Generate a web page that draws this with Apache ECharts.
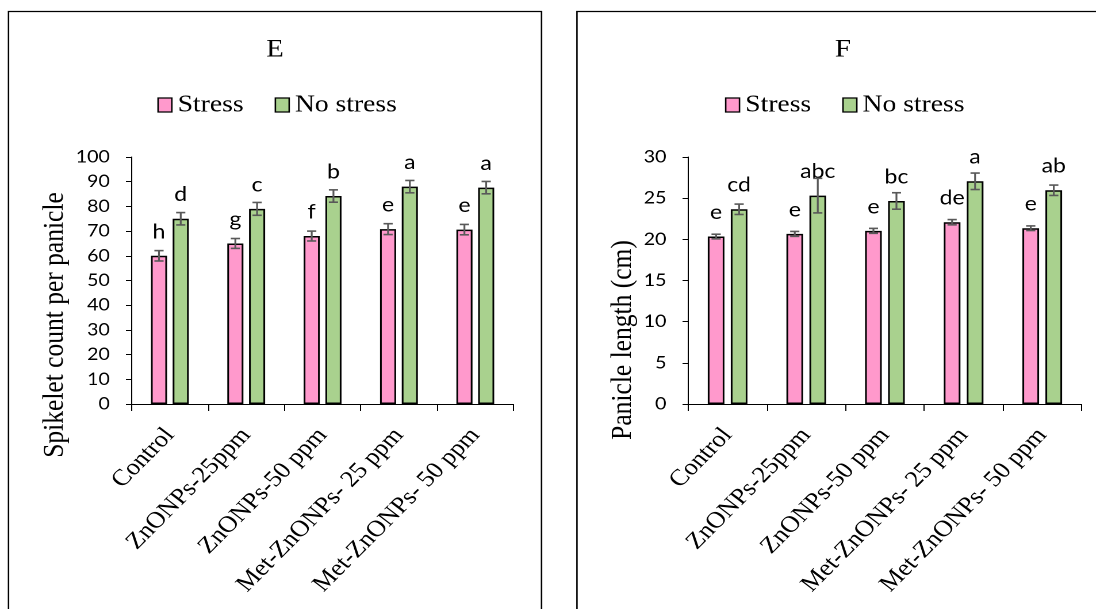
<!DOCTYPE html>
<html>
<head>
<meta charset="utf-8">
<title>Spikelet count and panicle length</title>
<script src="https://cdn.jsdelivr.net/npm/echarts@6/dist/echarts.min.js"></script>
<style>
  html, body { margin: 0; padding: 0; background: #fff; overflow: hidden; }
  /* the figure is laid out on a narrower canvas and widened to the page */
  #chart { width: 953px; height: 609px; transform: scaleX(1.15); transform-origin: 0 0; }
</style>
</head>
<body>
<div id="chart"></div>
<script>
// Treatments shared by both panels
const categories = ['Control', 'ZnONPs-25ppm', 'ZnONPs-50 ppm', 'Met-ZnONPs- 25 ppm', 'Met-ZnONPs- 50 ppm'];
const seriesNames = ['Stress', 'No stress'];

// Panel E: spikelet count per panicle (mean ± error)
const spikeStress = [60, 65, 68, 70.8, 70.6];
const spikeStressErr = [2.1, 2.0, 2.0, 2.2, 2.1];
const spikeNoStress = [75, 79, 84.2, 88.0, 87.6];
const spikeNoStressErr = [2.5, 2.6, 2.5, 2.5, 2.5];
const spikeStressLetters = ['h', 'g', 'f', 'e', 'e'];
const spikeNoStressLetters = ['d', 'c', 'b', 'a', 'a'];
const spikeTicks = { min: 0, max: 100, step: 10 };

// Panel F: panicle length in cm (mean ± error)
const lenStress = [20.34, 20.66, 21.03, 22.08, 21.35];
const lenStressErr = [0.28, 0.3, 0.3, 0.32, 0.28];
const lenNoStress = [23.65, 25.31, 24.66, 27.05, 25.96];
const lenNoStressErr = [0.63, 2.1, 1.0, 1.0, 0.63];
const lenStressLetters = ['e', 'e', 'e', 'de', 'e'];
const lenNoStressLetters = ['cd', 'abc', 'bc', 'a', 'ab'];
const lenTicks = { min: 0, max: 30, step: 5 };

const PINK = '#FF99CC';
const GREEN = '#A9D18E';
const ERR = '#595959';
const SERIF = '"Liberation Serif", "Times New Roman", serif';
const SANS = 'Lato, "Open Sans", sans-serif';

// bar geometry per panel: width in px and gap as a fraction of width
const panels = [
  { grid: { left: 114.5, top: 157, width: 332, height: 247 }, barW: 14, gap: 0.35 },
  { grid: { left: 598.5, top: 157, width: 342, height: 247 }, barW: 14.5, gap: 0.38 }
];

function barSeries(name, values, letters, color, p) {
  const pn = panels[p];
  return {
    type: 'bar', name: name, data: values,
    xAxisIndex: p, yAxisIndex: p,
    barWidth: pn.barW, barGap: Math.round(pn.gap * 100) + '%',
    itemStyle: { color: color, borderColor: '#000', borderWidth: 1.5 },
    label: {
      show: true, position: 'top', distance: 14,
      fontFamily: SANS, fontSize: 20, color: '#000',
      formatter: function (prm) { return letters[prm.dataIndex]; }
    },
    z: 2
  };
}

// whiskers drawn on top of each bar through the axis scales
function errorSeries(values, errs, p, side) {
  const pn = panels[p];
  const shift = side * pn.barW * (1 + pn.gap) / 2;
  return {
    type: 'custom',
    xAxisIndex: p, yAxisIndex: p,
    data: values.map(function (v, i) { return [i, v, errs[i]]; }),
    encode: { x: 0, y: 1 },
    silent: true, z: 5,
    renderItem: function (params, api) {
      const i = api.value(0), m = api.value(1), e = api.value(2);
      const hi = api.coord([i, m + e]);
      const lo = api.coord([i, m - e]);
      const x = hi[0] + shift;
      const cap = 4;
      const st = { stroke: ERR, lineWidth: 1.6 };
      return {
        type: 'group',
        children: [
          { type: 'line', shape: { x1: x, y1: hi[1], x2: x, y2: lo[1] }, style: st },
          { type: 'line', shape: { x1: x - cap, y1: hi[1], x2: x + cap, y2: hi[1] }, style: st },
          { type: 'line', shape: { x1: x - cap, y1: lo[1], x2: x + cap, y2: lo[1] }, style: st }
        ]
      };
    }
  };
}

function xAxisFor(p) {
  return {
    type: 'category', gridIndex: p, data: categories,
    axisLine: { lineStyle: { color: '#000', width: 1 } },
    axisTick: { show: true, alignWithLabel: false, length: 7, lineStyle: { color: '#000' } },
    axisLabel: {
      interval: 0, rotate: 49, margin: 27.5,
      fontFamily: SERIF, fontSize: 23, color: '#000'
    },
    splitLine: { show: false }
  };
}

function yAxisFor(p, t) {
  return {
    type: 'value', gridIndex: p,
    min: t.min, max: t.max, interval: t.step,
    axisLine: { show: true, lineStyle: { color: '#000', width: 1 } },
    axisTick: { show: true, length: 5, lineStyle: { color: '#000' } },
    axisLabel: { margin: 19, fontFamily: SANS, fontSize: 17, color: '#000' },
    splitLine: { show: false }
  };
}

function legendFor(left) {
  return {
    data: seriesNames, left: left, top: 93, padding: 0,
    icon: 'rect', itemWidth: 12, itemHeight: 14, itemGap: 27,
    itemStyle: { borderColor: '#000', borderWidth: 1.3 },
    textStyle: { fontFamily: SERIF, fontSize: 24, color: '#000' },
    selectedMode: false
  };
}

function textEl(str, x, y, size, rot) {
  return {
    type: 'text', x: x, y: y, rotation: rot || 0, silent: true,
    style: {
      text: str, font: size + 'px ' + SERIF, fill: '#000',
      textAlign: 'center', textVerticalAlign: 'middle',
      align: 'center', verticalAlign: 'middle'
    }
  };
}

const chart = echarts.init(document.getElementById('chart'), null, { renderer: 'canvas', devicePixelRatio: 2 });

chart.setOption({
  animation: false,
  backgroundColor: '#fff',
  grid: panels.map(function (pn) { return Object.assign({ containLabel: false }, pn.grid); }),
  xAxis: [xAxisFor(0), xAxisFor(1)],
  yAxis: [yAxisFor(0, spikeTicks), yAxisFor(1, lenTicks)],
  legend: [legendFor(136.8), legendFor(630.4)],
  series: [
    barSeries(seriesNames[0], spikeStress, spikeStressLetters, PINK, 0),
    barSeries(seriesNames[1], spikeNoStress, spikeNoStressLetters, GREEN, 0),
    barSeries(seriesNames[0], lenStress, lenStressLetters, PINK, 1),
    barSeries(seriesNames[1], lenNoStress, lenNoStressLetters, GREEN, 1),
    errorSeries(spikeStress, spikeStressErr, 0, -1),
    errorSeries(spikeNoStress, spikeNoStressErr, 0, 1),
    errorSeries(lenStress, lenStressErr, 1, -1),
    errorSeries(lenNoStress, lenNoStressErr, 1, 1)
  ],
  graphic: [
    // panel frames
    { type: 'rect', silent: true, shape: { x: 7.4, y: 11.5, width: 463.5, height: 640 },
      style: { fill: 'none', stroke: '#000', lineWidth: 1.3 } },
    { type: 'rect', silent: true, shape: { x: 501.7, y: 11.5, width: 520, height: 640 },
      style: { fill: 'none', stroke: '#000', lineWidth: 1.3 } },
    // panel titles
    textEl('E', 239.1, 50, 25),
    textEl('F', 733, 50, 25),
    // axis titles
    textEl('Spikelet count per panicle', 47.8, 325, 25.5, Math.PI / 2),
    textEl('Panicle length (cm)', 541.7, 340, 25.5, Math.PI / 2)
  ]
});
</script>
</body>
</html>
